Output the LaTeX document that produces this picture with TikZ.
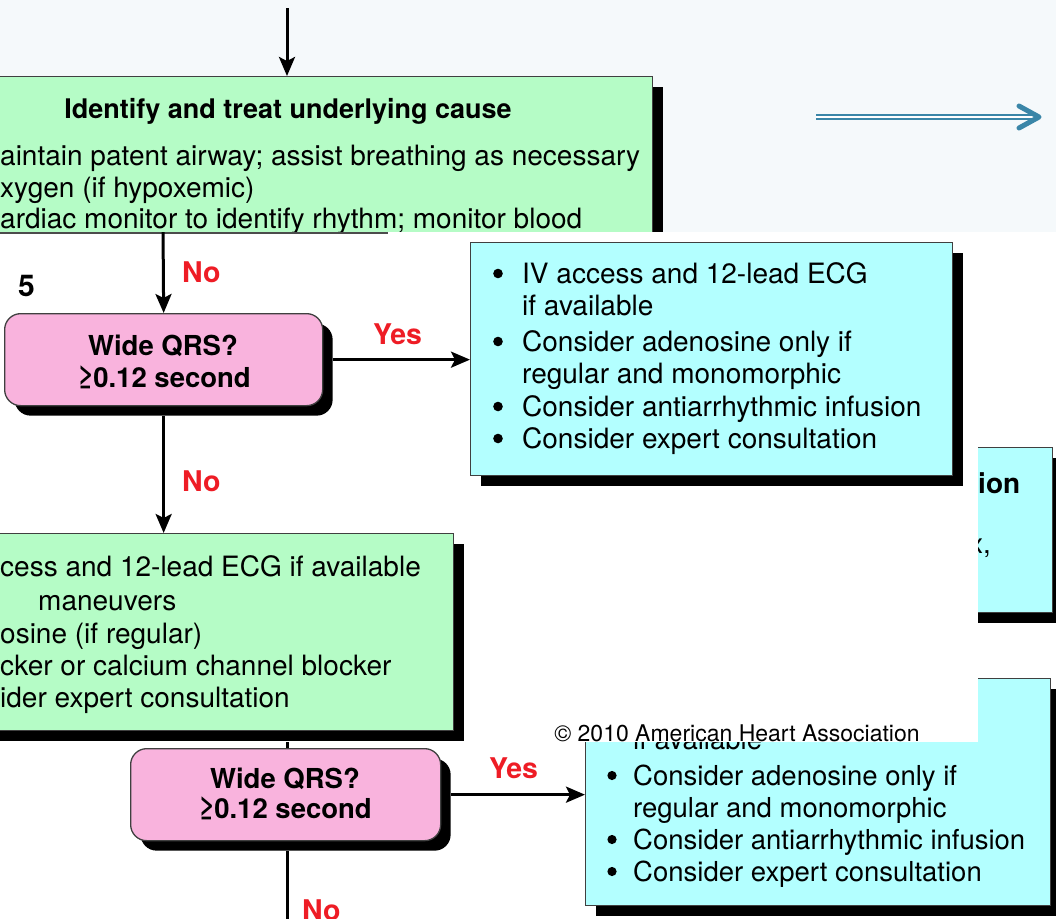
\documentclass[tikz,border=0pt]{standalone}
\usepackage{fontspec}
\setmainfont{TeX Gyre Heros}
\usetikzlibrary{arrows.meta,shadows}
\definecolor{boxgreen}{HTML}{B5FCC6}
\definecolor{boxpink}{HTML}{F9B3DD}
\definecolor{boxcyan}{HTML}{B3FFFF}
\definecolor{flagred}{HTML}{EE1C25}
\definecolor{linkblue}{HTML}{3A86A8}
\definecolor{pagetint}{HTML}{F5F9FB}

\begin{document}
\begin{tikzpicture}[x=1pt,y=-1pt,
  body/.style={font=\fontsize{28}{32}\selectfont, inner sep=0pt, anchor=base west},
  bodysm/.style={font=\fontsize{27.5}{32}\selectfont, inner sep=0pt, anchor=base west},
  head/.style={font=\fontsize{27.5}{32}\selectfont\bfseries, inner sep=0pt, anchor=base},
  flag/.style={font=\fontsize{28.5}{32}\selectfont\bfseries, text=flagred, inner sep=0pt, anchor=base west},
  panel/.style={draw=black!75, line width=1.3pt, inner sep=0pt, anchor=north west,
    drop shadow={shadow xshift=10pt, shadow yshift=-10pt, fill=black, opacity=1}},
  greenbox/.style={panel, fill=boxgreen},
  cyanbox/.style={panel, fill=boxcyan},
  pinkbox/.style={panel, fill=boxpink, rounded corners=16pt},
  conn/.style={line width=3pt, -{Stealth[length=19pt,width=16pt,inset=4pt]}},
  plain/.style={line width=3pt},
  dotmark/.style={fill=black},
]
\useasboundingbox (0,0) rectangle (1056,918);
\clip (0,0) rectangle (1056,918);

% ---------- lower sheet ----------
\fill[white] (0,0) rectangle (1056,918);
\node[cyanbox, minimum width=352pt, minimum height=165pt] (cyanR) at (700,447) {};
\node[font=\fontsize{28}{32}\selectfont\bfseries, inner sep=0pt, anchor=base west] (cyanRhead) at (978,493) {ion};
\node[font=\fontsize{28}{32}\selectfont, inner sep=0pt, anchor=base east] (cyanRtext) at (991,553) {x,};

\node[cyanbox, minimum width=465pt, minimum height=227pt] (cyanB) at (585,678) {};
\node[bodysm] (cbL1) at (633,749) {if available};
\node[bodysm] (cbL2) at (633,785) {Consider adenosine only if};
\node[bodysm] (cbL3) at (633,817) {regular and monomorphic};
\node[bodysm] (cbL4) at (633,849) {Consider antiarrhythmic infusion};
\node[bodysm] (cbL5) at (633,881) {Consider expert consultation};
\foreach \yb in {785,849,881} \fill[dotmark] (612,\yb-9.5) circle (4.6pt);

\node[pinkbox, minimum width=310pt, minimum height=92pt] (pinkB) at (130,748) {};
\node[head] (pinkBq) at (285,788) {Wide QRS?};
\node[head] (pinkBt) at (285,818) {≥0.12 second};
\coordinate (pinkBin) at (287,700);
\draw[plain] (pinkBin) -- (pinkBin |- pinkB.north);
\draw[conn] ([xshift=10pt]pinkB.east) -- (pinkB.east -| cyanB.west);
\node[flag] (yesB) at (489,778) {Yes};
\coordinate (pinkBout) at (287,940);
\draw[plain] ([yshift=-10pt]pinkBout |- pinkB.south) -- (pinkBout);
\node[flag] (noB) at (302,920) {No};

% ---------- upper sheet ----------
\begin{scope}
\clip (0,0) rectangle (1056,232);
\fill[pagetint] (0,0) rectangle (1056,232);
\node[greenbox, minimum width=712pt, minimum height=300pt] (greenT) at (-60,76) {};
\node[font=\fontsize{27}{32}\selectfont\bfseries, inner sep=0pt, anchor=base] (greenThead) at (288,118) {Identify and treat underlying cause};
\node[body] (gtL1) at (0,165) {aintain patent airway; assist breathing as necessary};
\node[body] (gtL2) at (0,197) {xygen (if hypoxemic)};
\node[body] (gtL3) at (0,228) {ardiac monitor to identify rhythm; monitor blood};
\coordinate (topin) at (287,8);
\draw[conn] (topin) -- (topin |- greenT.north);
% double-lined pointer
\coordinate (bluetail) at (816,117);
\coordinate (bluehead) at (1039,117);
\draw[linkblue, line width=2pt, double=white, double distance=1.4pt] (bluetail) -- ([xshift=-5pt]bluehead);
\draw[linkblue, line width=5pt, line cap=round, line join=round]
  ([xshift=-20pt,yshift=11pt]bluehead) -- (bluehead) -- ([xshift=-20pt,yshift=-11pt]bluehead);
\end{scope}

% ---------- middle sheet ----------
\begin{scope}
\clip (0,232) rectangle (978,742);
\fill[white] (0,232) rectangle (978,742);
\draw[black!70, line width=1.5pt] (0,232.8) -- (388,232.8);

\node[pinkbox, minimum width=318pt, minimum height=92pt] (pinkM) at (4,313) {};
\node[head] (pinkMq) at (163,355) {Wide QRS?};
\node[head] (pinkMt) at (164,387) {≥0.12 second};
\node[font=\fontsize{30}{32}\selectfont\bfseries, inner sep=0pt, anchor=base west] (stepnum) at (18,296) {5};

\coordinate (pinkMin) at (163,226);
\draw[conn] (pinkMin) -- (pinkM.north);
\node[flag] (noM1) at (182,282) {No};

\node[cyanbox, minimum width=482pt, minimum height=233pt] (cyanM) at (470,242) {};
\draw[conn] ([xshift=10pt]pinkM.east) -- (pinkM.east -| cyanM.west);
\node[flag] (yesM) at (373,344) {Yes};

\node[body] (cmL1) at (522,283) {IV access and 12-lead ECG};
\node[body] (cmL2) at (522,315) {if available};
\node[body] (cmL3) at (522,351) {Consider adenosine only if};
\node[body] (cmL4) at (522,383) {regular and monomorphic};
\node[body] (cmL5) at (522,416) {Consider antiarrhythmic infusion};
\node[body] (cmL6) at (522,448) {Consider expert consultation};
\foreach \yb in {283,351,416,448} \fill[dotmark] (498,\yb-9.5) circle (4.8pt);

\node[greenbox, minimum width=513pt, minimum height=197pt] (greenM) at (-60,533) {};
\draw[conn] ([yshift=-10pt]pinkM.south) -- (pinkM.south |- greenM.north);
\node[flag] (noM2) at (182,491) {No};

\node[body] (gmL1) at (0,576) {cess and 12-lead ECG if available};
\node[body] (gmL2) at (38,610) {maneuvers};
\node[body] (gmL3) at (0,643) {osine (if regular)};
\node[body] (gmL4) at (0,675) {cker or calcium channel blocker};
\node[body] (gmL5) at (0,707) {ider expert consultation};

\node[font=\fontsize{23}{26}\selectfont, inner sep=0pt, anchor=base] (copyright) at (737,741) {© 2010 American Heart Association};
\end{scope}
\end{tikzpicture}
\end{document}
